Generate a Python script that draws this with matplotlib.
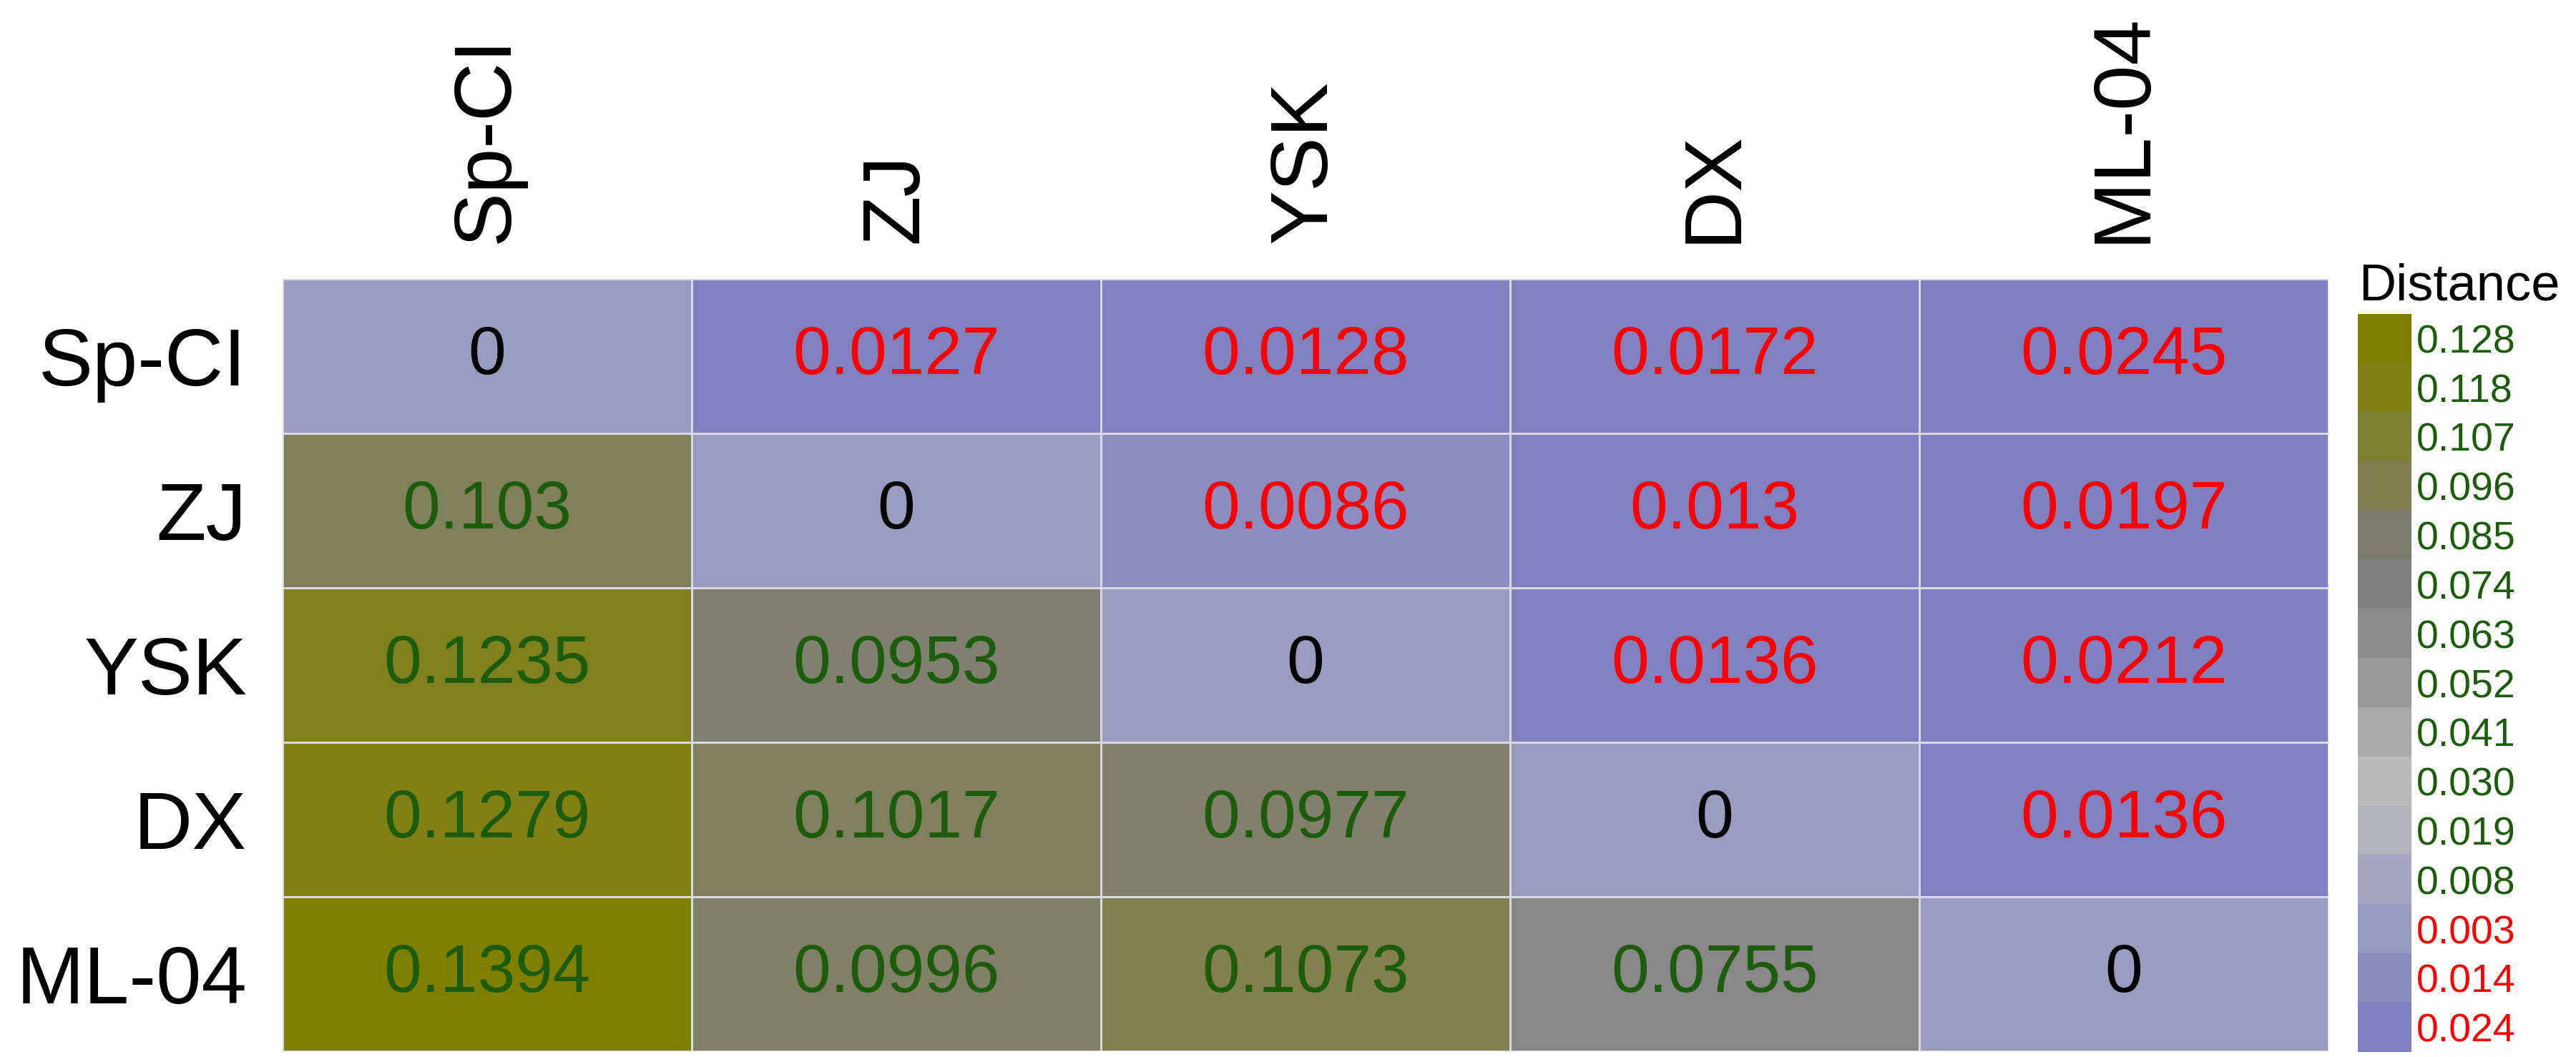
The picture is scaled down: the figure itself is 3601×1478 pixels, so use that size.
import numpy as np
import matplotlib
matplotlib.use('Agg')
import matplotlib.pyplot as plt
from matplotlib.colors import LinearSegmentedColormap, ListedColormap, Normalize

plt.rcParams['font.family'] = ['Liberation Sans', 'DejaVu Sans']

populations = ['Sp-CI', 'ZJ', 'YSK', 'DX', 'ML-04']

# lower triangle = green values, upper triangle = red values, diagonal = 0
distance = [
    [0,      0.0127, 0.0128, 0.0172, 0.0245],
    [0.103,  0,      0.0086, 0.013,  0.0197],
    [0.1235, 0.0953, 0,      0.0136, 0.0212],
    [0.1279, 0.1017, 0.0977, 0,      0.0136],
    [0.1394, 0.0996, 0.1073, 0.0755, 0],
]

# legend bins (top to bottom)
legend_labels = ['0.128', '0.118', '0.107', '0.096', '0.085', '0.074', '0.063',
                 '0.052', '0.041', '0.030', '0.019', '0.008', '0.003', '0.014', '0.024']
legend_colors = ['#808000', '#7f7f14', '#7f7f30', '#7e7e4e', '#7b7b6e', '#808080', '#8a8a8a',
                 '#9a9a9a', '#aaaaaa', '#bababa', '#b3b3bf', '#a6a6c2', '#9898c0', '#8a8ac0', '#8080c0']
legend_is_red = [False] * 12 + [True] * 3

green = '#1c5c0c'
red = '#ff0000'

# color scale for the cells: upper triangle is plotted as negative values
scale_vals = [-0.0245, -0.0127, -0.0086, 0.0, 0.030, 0.0755, 0.096, 0.104, 0.123, 0.1394]
scale_cols = ['#8080c0', '#8181c0', '#8e8ec0', '#9b9bc0', '#bbbbbb', '#888888',
              '#808070', '#80805a', '#808020', '#808000']

vmin, vmax = scale_vals[0], scale_vals[-1]
nodes = [(v - vmin) / (vmax - vmin) for v in scale_vals]
cmap = LinearSegmentedColormap.from_list('dist', list(zip(nodes, scale_cols)))

d = np.array(distance, dtype=float)
n = len(populations)
signed = d.copy()
upper = np.triu(np.ones((n, n), dtype=bool), k=1)
signed[upper] = -signed[upper]

fig = plt.figure(figsize=(36.01, 14.78), dpi=100)
ax = fig.add_axes([0.1097, 0.0054, 0.7941, 0.7307])

ax.pcolormesh(signed, cmap=cmap, norm=Normalize(vmin, vmax),
              edgecolors='#d8d8e6', linewidth=0.9)
ax.set_xlim(0, n)
ax.set_ylim(n, 0)

for i in range(n):
    for j in range(n):
        if i == j:
            c = 'black'
        elif j > i:
            c = red
        else:
            c = green
        ax.text(j + 0.5, i + 0.5, f'{d[i, j]:g}', ha='center', va='center',
                fontsize=68, color=c)

ax.xaxis.tick_top()
ax.set_xticks(np.arange(n) + 0.5)
ax.set_xticklabels(populations, rotation=90, fontsize=82)
ax.set_yticks(np.arange(n) + 0.5)
ax.set_yticklabels(populations, fontsize=82)
ax.tick_params(length=0, pad=36)
for s in ax.spines.values():
    s.set_visible(False)

# discrete legend
cax = fig.add_axes([0.9153, 0.0047, 0.0208, 0.6983])
nb = len(legend_labels)
cax.imshow(np.arange(nb).reshape(-1, 1), cmap=ListedColormap(legend_colors),
           aspect='auto', extent=(0, 1, nb, 0), interpolation='nearest')
cax.set_xticks([])
cax.yaxis.tick_right()
cax.set_yticks(np.arange(nb) + 0.5)
cax.set_yticklabels(legend_labels, fontsize=40)
for lab, r in zip(cax.get_yticklabels(), legend_is_red):
    lab.set_color(red if r else green)
cax.tick_params(length=0, pad=5)
for s in cax.spines.values():
    s.set_visible(False)
cax.set_title('Distance', fontsize=52, pad=14, x=1.9)

fig.savefig('out.png', dpi=100)
